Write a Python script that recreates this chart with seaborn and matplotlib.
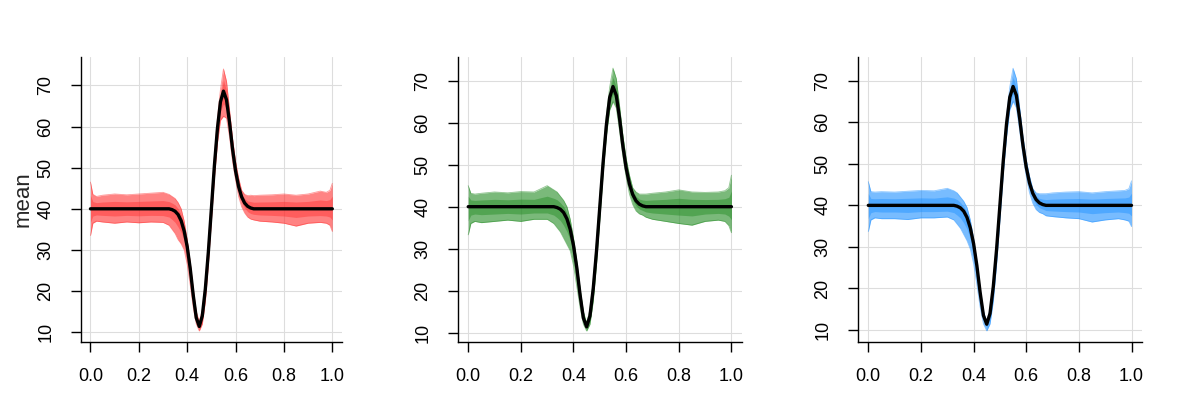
import numpy as np
import matplotlib
matplotlib.use("Agg")
import matplotlib.pyplot as plt
import seaborn as sns

# shared x grid (finer around the wave)
x_grid = [0.0, 0.01, 0.025, 0.05, 0.10, 0.15, 0.20, 0.25, 0.30,
          0.325, 0.3375, 0.35, 0.3625, 0.375, 0.3875, 0.40,
          0.4125, 0.425, 0.4375, 0.45, 0.4625, 0.475, 0.4875, 0.50,
          0.5125, 0.525, 0.5375, 0.55, 0.5625, 0.575, 0.5875, 0.60,
          0.6125, 0.625, 0.6375, 0.65, 0.6625, 0.675, 0.70,
          0.75, 0.80, 0.85, 0.90, 0.95, 0.975, 0.99, 1.0]

mean_curve = [40, 40, 40, 40, 40, 40, 40, 40, 40,
              40.0, 39.8, 39.4, 38.6, 37.1, 34.6, 30.8,
              25.5, 19.0, 13.5, 11.4, 14.0, 20.5, 29.5, 40.0,
              50.5, 59.5, 66.0, 68.6, 66.5, 61.0, 54.5, 49.2,
              45.4, 42.9, 41.4, 40.6, 40.2, 40.0, 40.0,
              40, 40, 40, 40, 40, 40, 40, 40]

# envelope of the sample curves, per panel
red_upper = [46.5, 43.5, 43.0, 43.3, 43.6, 43.4, 43.6, 43.8, 44.0,
             43.5, 43.0, 42.5, 41.5, 40.0, 37.0, 32.5,
             27.0, 20.5, 15.0, 12.5, 15.5, 22.5, 32.0, 42.5,
             53.0, 62.0, 69.0, 74.0, 71.0, 64.0, 57.0, 51.5,
             47.5, 44.5, 43.5, 43.2, 43.3, 43.2, 43.3,
             43.4, 43.6, 43.3, 43.6, 44.3, 44.0, 44.5, 46.2]
red_lower = [33.5, 36.5, 37.0, 36.8, 36.5, 36.8, 36.6, 36.8, 36.7,
             36.0, 35.0, 34.0, 32.5, 31.5, 30.0, 26.5,
             21.5, 16.0, 12.0, 10.3, 12.0, 17.5, 26.5, 37.0,
             47.5, 56.0, 61.5, 62.5, 62.0, 57.5, 51.5, 47.0,
             43.0, 40.5, 39.0, 38.0, 37.5, 37.3, 37.0,
             36.8, 36.5, 35.8, 36.5, 36.7, 36.5, 36.0, 34.5]

green_upper = [45.0, 43.2, 43.0, 43.2, 43.5, 43.3, 43.6, 43.5, 45.0,
               44.0, 43.5, 42.5, 41.5, 40.0, 37.0, 32.5,
               27.0, 20.5, 15.0, 12.3, 15.5, 22.5, 32.0, 42.5,
               53.0, 62.0, 68.5, 73.0, 70.5, 64.0, 57.0, 51.5,
               47.5, 44.5, 43.5, 43.0, 43.0, 43.0, 43.2,
               43.5, 44.0, 43.5, 43.4, 43.5, 43.8, 44.5, 47.5]
green_lower = [33.3, 36.0, 36.5, 36.2, 36.5, 36.8, 36.5, 37.0, 37.0,
               36.0, 35.0, 34.0, 32.5, 31.0, 29.5, 26.0,
               21.0, 16.0, 12.0, 10.4, 12.0, 17.5, 26.5, 37.0,
               48.0, 57.0, 63.0, 65.0, 63.5, 58.0, 52.0, 47.0,
               43.0, 40.5, 39.0, 38.3, 38.0, 37.5, 37.0,
               36.5, 36.0, 35.6, 36.5, 36.8, 36.5, 35.5, 33.8]

blue_upper = [45.7, 43.3, 43.2, 43.3, 43.2, 43.4, 43.6, 43.5, 44.1,
              43.5, 43.0, 42.0, 41.0, 39.5, 36.5, 32.0,
              26.5, 20.0, 14.5, 12.0, 15.0, 22.0, 31.5, 42.0,
              52.5, 61.5, 68.5, 73.0, 70.5, 63.5, 56.5, 51.0,
              47.0, 44.0, 43.0, 42.8, 42.8, 42.8, 43.0,
              43.2, 43.3, 43.0, 43.3, 43.5, 43.6, 44.0, 45.9]
blue_lower = [33.7, 36.5, 37.0, 36.8, 36.8, 36.6, 37.0, 37.0, 37.2,
              36.5, 35.5, 34.5, 33.0, 31.5, 29.5, 26.0,
              21.0, 15.5, 11.5, 9.8, 11.5, 17.0, 26.0, 36.5,
              47.5, 56.5, 63.0, 65.0, 63.5, 58.0, 52.0, 47.0,
              43.0, 40.5, 39.0, 38.3, 38.0, 37.5, 37.3,
              37.0, 36.8, 36.0, 36.5, 36.8, 36.5, 36.2, 34.9]

x_ticks = [0.0, 0.2, 0.4, 0.6, 0.8, 1.0]
x_ticklabels = ["0.0", "0.2", "0.4", "0.6", "0.8", "1.0"]
y_ticks = [10, 20, 30, 40, 50, 60, 70]

sns.set_style("white")
plt.rcParams["font.family"] = ["Liberation Sans", "DejaVu Sans"]

fig = plt.figure(figsize=(12, 4), dpi=100)

panels = [
    ("#FF3030", red_lower, red_upper, [0.0673, 0.1458, 0.2177, 0.7117], (7.7, 76.9), "mean"),
    ("#228B22", green_lower, green_upper, [0.3814, 0.1458, 0.2369, 0.7117], (7.86, 75.64), None),
    ("#1E90FF", blue_lower, blue_upper, [0.7148, 0.1458, 0.2369, 0.7117], (7.2, 75.7), None),
]

xs = np.array(x_grid)
mu = np.array(mean_curve)

for color, lower, upper, pos, ylim, ylab in panels:
    ax = fig.add_axes(pos)
    lo = np.array(lower)
    hi = np.array(upper)

    ax.set_axisbelow(True)
    ax.grid(True, color="#dddddd", lw=0.8)

    # spread of the individual curves: outer band plus a denser core
    ax.fill_between(xs, lo, hi, color=color, alpha=0.6, lw=0)
    ax.fill_between(xs, (lo + mu) / 2, (hi + mu) / 2, color=color, alpha=0.45, lw=0)
    ax.plot(xs, lo, color=color, lw=0.6, alpha=0.5)
    ax.plot(xs, hi, color=color, lw=0.6, alpha=0.5)

    sns.lineplot(x=x_grid, y=mean_curve, ax=ax, color="black", lw=2.4)

    ax.set_xlim(-0.04, 1.04)
    ax.set_ylim(*ylim)
    ax.set_xticks(x_ticks)
    ax.set_xticklabels(x_ticklabels)
    ax.set_yticks(y_ticks)
    ax.tick_params(axis="both", direction="out", length=7, width=1, colors="black",
                   labelsize=13, pad=12, bottom=True, left=True)
    for lab in ax.get_yticklabels():
        lab.set_rotation(90)
        lab.set_va("center")

    for side in ["top", "right"]:
        ax.spines[side].set_visible(False)
    for side in ["left", "bottom"]:
        ax.spines[side].set_color("black")
        ax.spines[side].set_linewidth(1.0)

    if ylab:
        ax.set_ylabel(ylab, fontsize=16, labelpad=3)
    else:
        ax.set_ylabel("")

fig.savefig("out.png", dpi=100)
